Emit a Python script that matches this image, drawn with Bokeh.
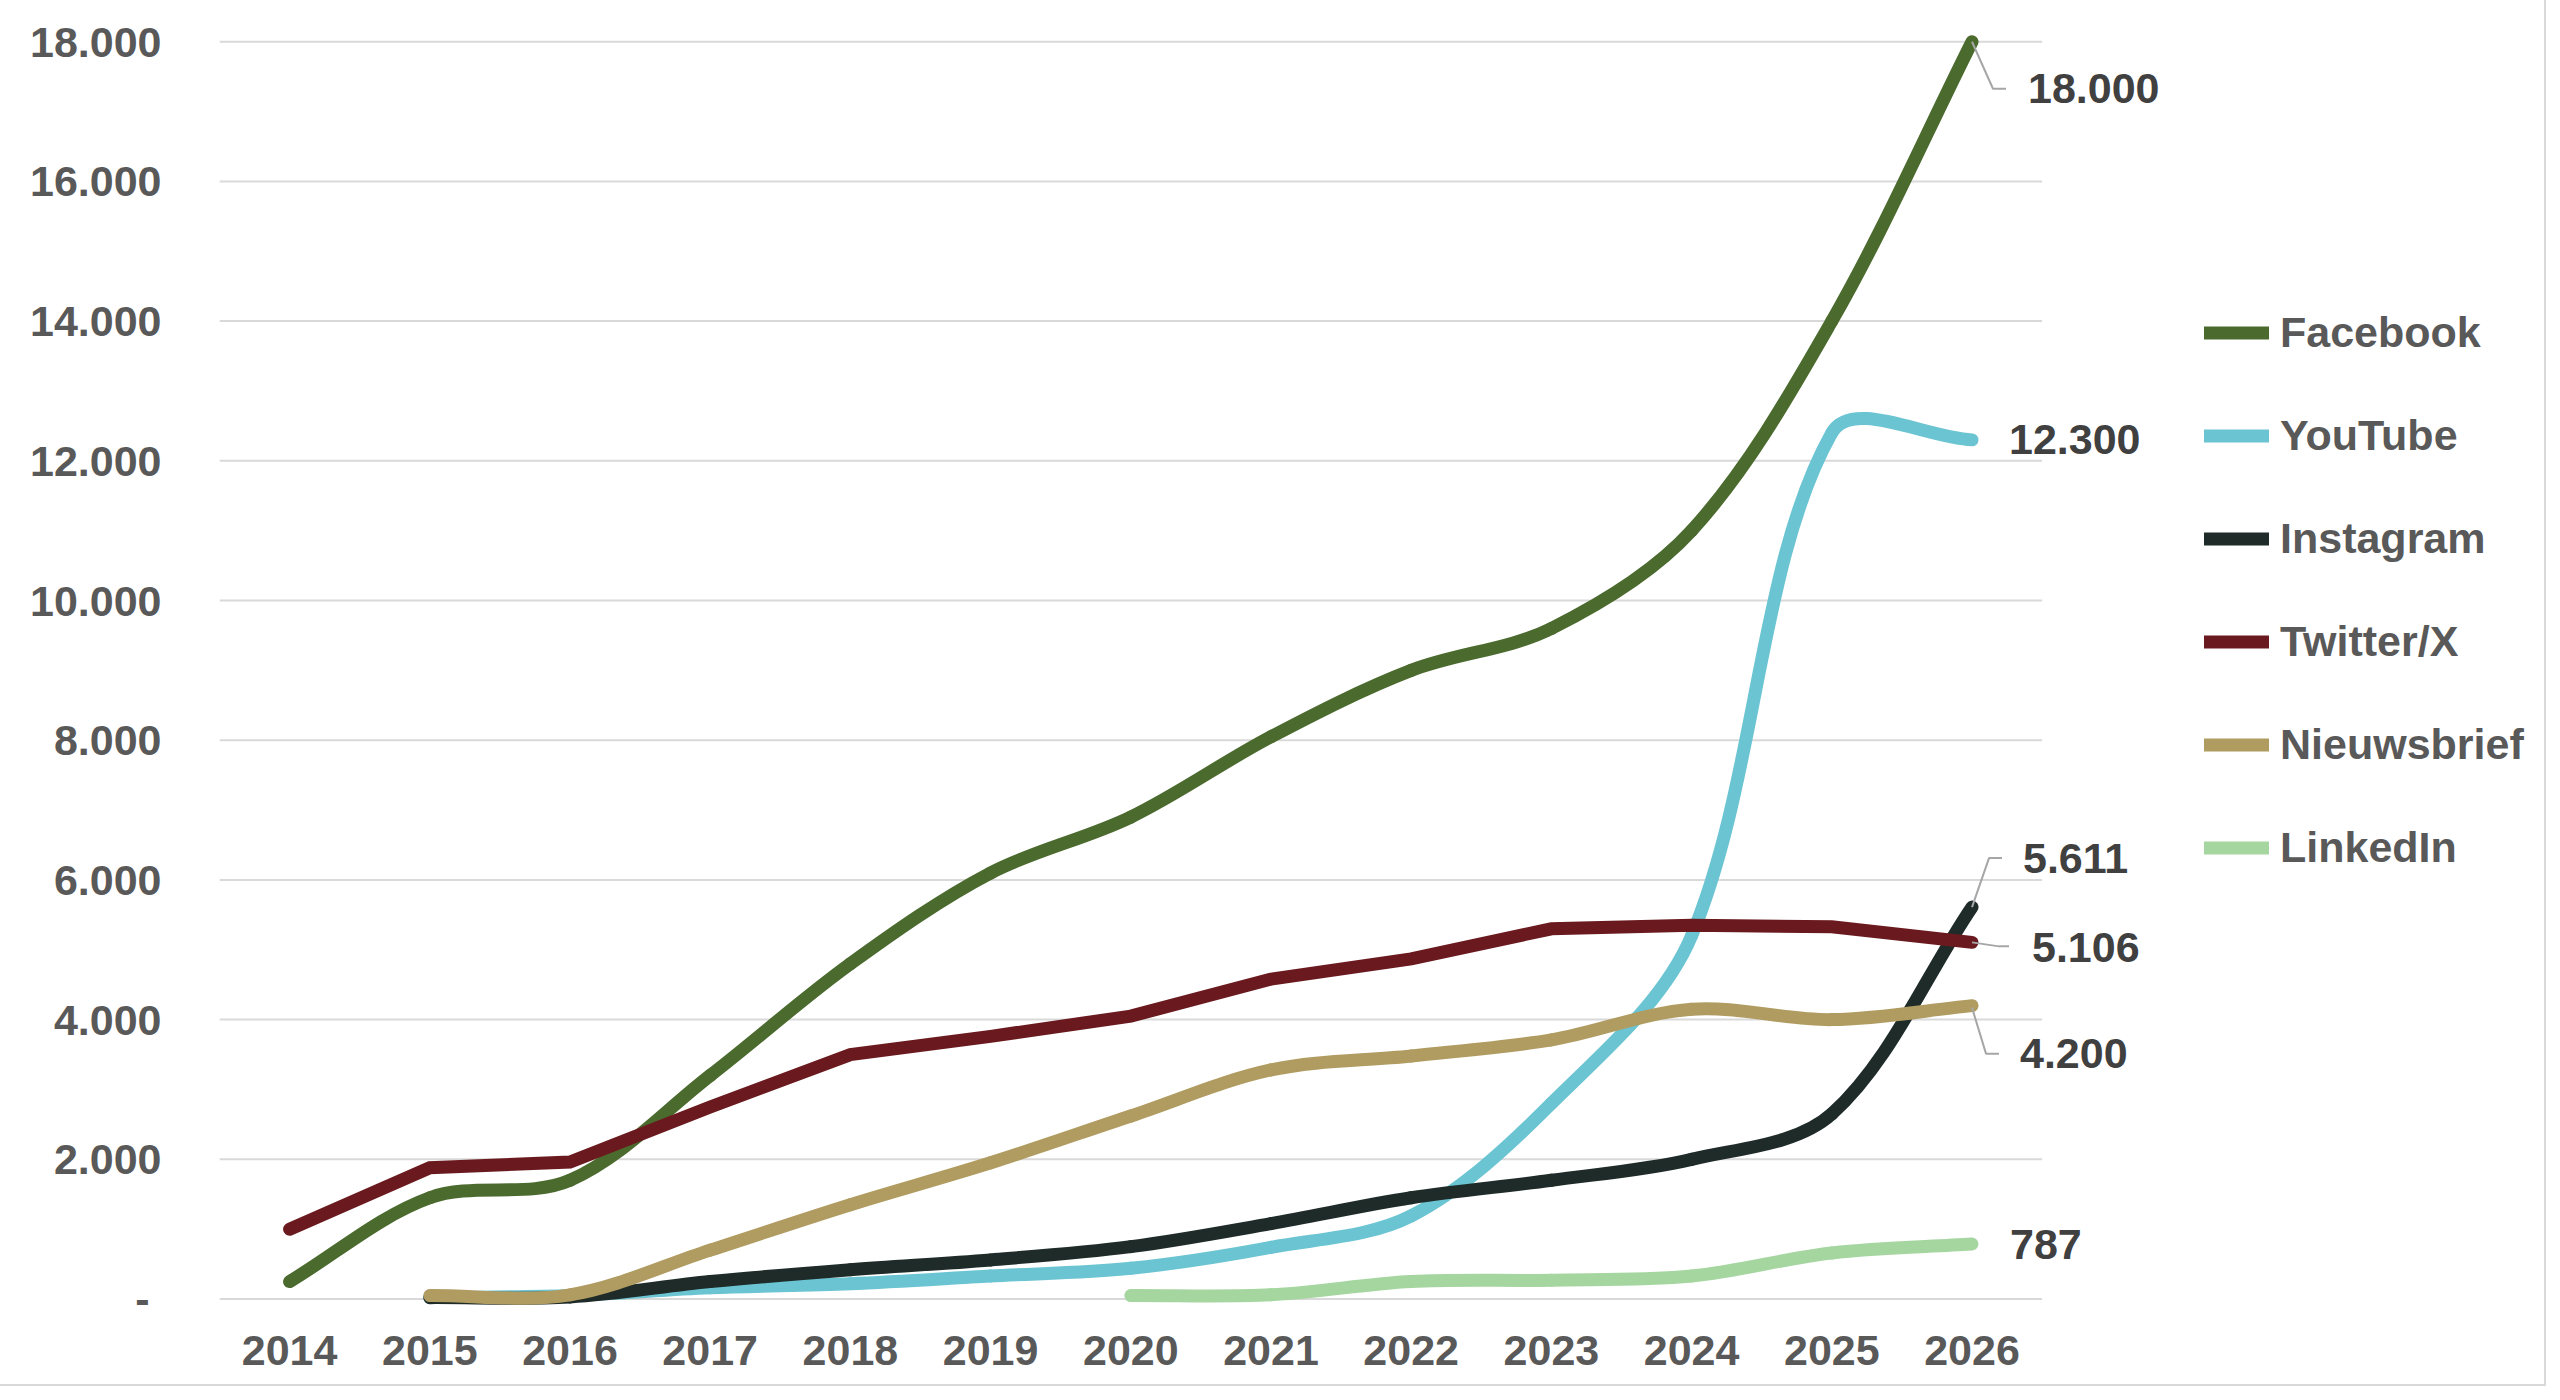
import math
from bokeh.plotting import figure
from bokeh.models import Range1d, FixedTicker, Legend, LegendItem
from bokeh.embed import file_html
from bokeh.resources import INLINE
from bokeh.core.properties import value

# ---------------- data ----------------
years = [2014, 2015, 2016, 2017, 2018, 2019, 2020, 2021, 2022, 2023, 2024, 2025, 2026]
facebook = [250, 1450, 1700, 3200, 4800, 6100, 6900, 8050, 9000, 9600, 11000, 14000, 18000]
youtube = [None, 20, 50, 160, 220, 330, 440, 740, 1190, 2800, 5200, 12400, 12300]
instagram = [None, 20, 30, 250, 420, 560, 750, 1080, 1450, 1700, 2000, 2650, 5611]
twitter = [1000, 1880, 1960, 2750, 3500, 3760, 4050, 4580, 4870, 5300, 5350, 5330, 5106]
nieuwsbrief = [None, 50, 60, 700, 1350, 1950, 2620, 3280, 3480, 3710, 4150, 4000, 4200]
linkedin = [None, None, None, None, None, None, 50, 60, 250, 270, 330, 660, 787]

series_names = ["Facebook", "YouTube", "Instagram", "Twitter/X", "Nieuwsbrief", "LinkedIn"]
series_values = [facebook, youtube, instagram, twitter, nieuwsbrief, linkedin]
series_colors = ["#4B6A2E", "#6BC4D2", "#1E2B29", "#6A1A1E", "#B09C61", "#A5D6A0"]
series_smooth = [True, True, True, False, True, True]

y_ticks = [0, 2000, 4000, 6000, 8000, 10000, 12000, 14000, 16000, 18000]


def nl_format(v):
    return f"{v:,}".replace(",", ".")


y_tick_labels = {t: ("-\u00a0" if t == 0 else nl_format(t)) for t in y_ticks}

# ---------------- layout ----------------
W, H = 2544, 1384
LEFT, RIGHT, TOP, BOTTOM = 219, 1, 14, 75
frame_w = W - LEFT - RIGHT
frame_h = H - TOP - BOTTOM
PX_X = 140.2                 # px per year
PX_Y = 139.7 / 2000.0        # px per unit
x_start = years[0] - 0.5
x_end = x_start + frame_w / PX_X
y_start = -150
y_end = y_start + frame_h / PX_Y

FONT = "Liberation Sans"
LW = 13

p = figure(width=W, height=H, x_range=Range1d(x_start, x_end), y_range=Range1d(y_start, y_end),
           output_backend="svg", toolbar_location=None,
           min_border_left=LEFT, min_border_right=RIGHT, min_border_top=TOP, min_border_bottom=BOTTOM)
p.styles = {"outline": "2px solid #D9D9D9"}
p.xgrid.visible = False
p.ygrid.visible = False
p.outline_line_color = None

for ax in (p.xaxis, p.yaxis):
    ax.axis_line_color = None
    ax.major_tick_line_color = None
    ax.minor_tick_line_color = None
    ax.major_label_text_font = FONT
    ax.major_label_text_font_style = "bold"
    ax.major_label_text_font_size = "43px"
    ax.major_label_text_color = "#595959"

p.xaxis.ticker = FixedTicker(ticks=years)
p.xaxis.major_label_overrides = {y: str(y) for y in years}
p.xaxis.major_label_standoff = 20
p.yaxis.ticker = FixedTicker(ticks=y_ticks)
p.yaxis.major_label_overrides = y_tick_labels
p.yaxis.major_label_standoff = 52

# gridlines only across the category area
n = len(y_ticks)
p.segment(x0=[years[0] - 0.5] * n, y0=y_ticks, x1=[years[-1] + 0.5] * n, y1=y_ticks,
          line_color="#D9D9D9", line_width=2)


def smooth_segments(xs, ys):
    pts = [(x * PX_X, y * PX_Y) for x, y in zip(xs, ys)]
    m = len(pts)
    out = {k: [] for k in ("x0", "y0", "x1", "y1", "cx0", "cy0", "cx1", "cy1")}

    def dist(a, b):
        return math.hypot(a[0] - b[0], a[1] - b[1])

    for i in range(m - 1):
        p0 = pts[i - 1] if i > 0 else pts[i]
        p1 = pts[i]
        p2 = pts[i + 1]
        p3 = pts[i + 2] if i + 2 < m else pts[i + 1]
        d01, d12, d23 = dist(p0, p1), dist(p1, p2), dist(p2, p3)
        f1 = d12 / (d01 + d12) / 3.0 if d01 + d12 > 0 else 0
        f2 = d12 / (d12 + d23) / 3.0 if d12 + d23 > 0 else 0
        c1 = (p1[0] + (p2[0] - p0[0]) * f1, p1[1] + (p2[1] - p0[1]) * f1)
        c2 = (p2[0] - (p3[0] - p1[0]) * f2, p2[1] - (p3[1] - p1[1]) * f2)
        out["x0"].append(p1[0] / PX_X); out["y0"].append(p1[1] / PX_Y)
        out["x1"].append(p2[0] / PX_X); out["y1"].append(p2[1] / PX_Y)
        out["cx0"].append(c1[0] / PX_X); out["cy0"].append(c1[1] / PX_Y)
        out["cx1"].append(c2[0] / PX_X); out["cy1"].append(c2[1] / PX_Y)
    return out


legend_items = []
for name, vals, color, smooth in zip(series_names, series_values, series_colors, series_smooth):
    xs = [x for x, v in zip(years, vals) if v is not None]
    ys = [v for v in vals if v is not None]
    if smooth:
        seg = smooth_segments(xs, ys)
        r = p.bezier(line_color=color, line_width=LW, line_cap="round", **seg)
    else:
        r = p.line(xs, ys, line_color=color, line_width=LW, line_cap="round", line_join="miter")
    legend_items.append(LegendItem(label=name, renderers=[r]))

# ---------------- end labels with leader lines ----------------
# offsets in screen px (right, down) from the last data point
label_offsets = {"Facebook": (56, 47), "YouTube": (37, 0), "Instagram": (51, -49),
                 "Twitter/X": (60, 5), "Nieuwsbrief": (48, 48), "LinkedIn": (38, 0)}
leader_offsets = {"Facebook": [(0, 0), (21, 47), (34, 47)],
                  "Instagram": [(0, 0), (17, -49), (30, -49)],
                  "Twitter/X": [(0, 0), (27, 4), (37, 4)],
                  "Nieuwsbrief": [(0, 2), (14, 48), (27, 48)]}

lx, ly, lt = [], [], []
mx, my = [], []
for name, vals in zip(series_names, series_values):
    v = vals[-1]
    xe = years[-1]
    dx, dy = label_offsets[name]
    lx.append(xe + dx / PX_X)
    ly.append(v - dy / PX_Y)
    lt.append(nl_format(v))
    if name in leader_offsets:
        mx.append([xe + a / PX_X for a, b in leader_offsets[name]])
        my.append([v - b / PX_Y for a, b in leader_offsets[name]])

p.multi_line(xs=mx, ys=my, line_color="#A6A6A6", line_width=2)
p.text(x=lx, y=ly, text=lt, text_font=value(FONT), text_font_style="bold",
       text_font_size="43px", text_color="#404040", text_baseline="middle", text_align="left")

# ---------------- legend ----------------
legend = Legend(items=legend_items, location=(1985, 437), orientation="vertical",
                glyph_width=65, glyph_height=49, label_height=49, label_standoff=11,
                spacing=54, padding=0, margin=0,
                label_text_font=FONT, label_text_font_style="bold",
                label_text_font_size="43px", label_text_color="#595959",
                border_line_color=None, background_fill_alpha=0)
p.add_layout(legend)

open("out.html", "w").write(file_html(p, INLINE))
